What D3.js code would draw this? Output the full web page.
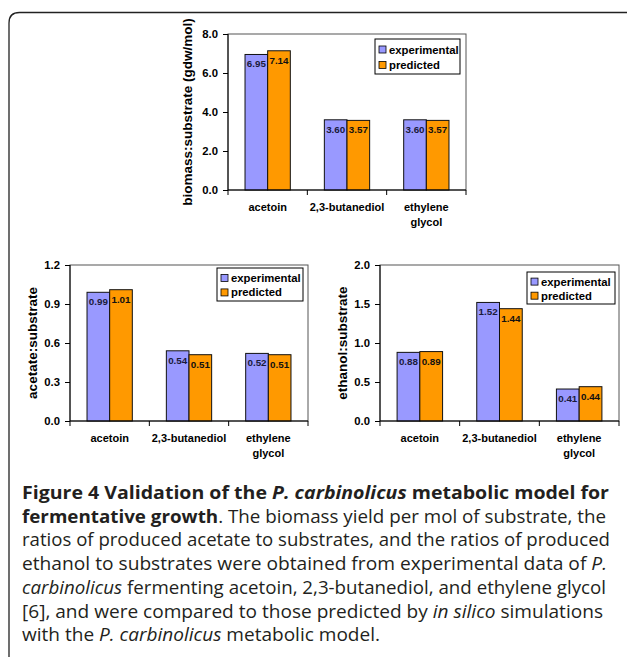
<!DOCTYPE html>
<html>
<head>
<meta charset="utf-8">
<script src="https://cdn.jsdelivr.net/npm/d3@7"></script>
<style>
  html, body { margin: 0; padding: 0; background: #fff; }
  svg { display: block; }
</style>
</head>
<body>
<svg id="chart" width="627" height="658"></svg>
<script>
// ---------------- DATA ----------------
const categories = ["acetoin", "2,3-butanediol", "ethylene glycol"];
const seriesNames = ["experimental", "predicted"];

const biomassExperimental = [6.95, 3.60, 3.60];
const biomassPredicted    = [7.14, 3.57, 3.57];
const biomassTicks        = [0, 2, 4, 6, 8];

const acetateExperimental = [0.99, 0.54, 0.52];
const acetatePredicted    = [1.01, 0.51, 0.51];
const acetateTicks        = [0, 0.3, 0.6, 0.9, 1.2];

const ethanolExperimental = [0.88, 1.52, 0.41];
const ethanolPredicted    = [0.89, 1.44, 0.44];
const ethanolTicks        = [0, 0.5, 1.0, 1.5, 2.0];

const yLabels = ["biomass:substrate (gdw/mol)", "acetate:substrate", "ethanol:substrate"];

// caption: each line is a list of [text, style] segments (b = bold, i = italic, bi = bold italic, r = regular)
const captionLines = [
  [["Figure 4 Validation of the ", "b"], ["P. carbinolicus", "bi"], [" metabolic model for", "b"]],
  [["fermentative growth", "b"], [". The biomass yield per mol of substrate, the", "r"]],
  [["ratios of produced acetate to substrates, and the ratios of produced", "r"]],
  [["ethanol to substrates were obtained from experimental data of ", "r"], ["P.", "i"]],
  [["carbinolicus", "i"], [" fermenting acetoin, 2,3-butanediol, and ethylene glycol", "r"]],
  [["[6], and were compared to those predicted by ", "r"], ["in silico", "i"], [" simulations", "r"]],
  [["with the ", "r"], ["P. carbinolicus", "i"], [" metabolic model.", "r"]]
];

// ---------------- STYLE ----------------
const seriesColors = ["#9999FF", "#FF9900"];
const chartFont = "'Liberation Sans', Arial, Helvetica, sans-serif";

const svg = d3.select("#chart");

// frame with rounded top-left corner
svg.append("path")
  .attr("d", "M9,657 V23 Q9,12.5 19.5,12.5 H627")
  .attr("fill", "none")
  .attr("stroke", "#222")
  .attr("stroke-width", 1.3);

const panels = [
  { box: [228, 34, 466, 190], exp: biomassExperimental, pred: biomassPredicted, ticks: biomassTicks,
    label: yLabels[0], labelX: 187, legend: [375, 39, 85, 35] },
  { box: [70, 265, 308, 421], exp: acetateExperimental, pred: acetatePredicted, ticks: acetateTicks,
    label: yLabels[1], labelX: 32, legend: [217, 268, 86, 33] },
  { box: [380, 265, 619, 421], exp: ethanolExperimental, pred: ethanolPredicted, ticks: ethanolTicks,
    label: yLabels[2], labelX: 342, legend: [527, 272, 88, 32] }
];

panels.forEach(p => drawPanel(p));

function drawPanel(p) {
  const [x0, y0, x1, y1] = p.box;
  const g = svg.append("g").attr("font-family", chartFont);

  const x = d3.scaleBand().domain(categories).range([x0, x1]).padding(0);
  const bw = x.bandwidth();
  const xs = d3.scaleBand().domain(seriesNames).range([bw * 0.2145, bw * 0.7855]).padding(0);
  const y = d3.scaleLinear().domain([p.ticks[0], p.ticks[p.ticks.length - 1]]).range([y1, y0]);

  // plot area border
  g.append("rect")
    .attr("x", x0).attr("y", y0).attr("width", x1 - x0).attr("height", y1 - y0)
    .attr("fill", "none").attr("stroke", "#555").attr("stroke-width", 1);

  // bars
  const rows = categories.map((c, i) => ({ cat: c, vals: [p.exp[i], p.pred[i]] }));
  const cg = g.selectAll("g.cat").data(rows).join("g")
    .attr("transform", d => `translate(${x(d.cat)},0)`);
  const bars = cg.selectAll("g.bar")
    .data(d => d.vals.map((v, j) => ({ v, s: seriesNames[j], j })))
    .join("g");
  bars.append("rect")
    .attr("x", d => xs(d.s))
    .attr("y", d => y(d.v))
    .attr("width", xs.bandwidth())
    .attr("height", d => y1 - y(d.v))
    .attr("fill", d => seriesColors[d.j])
    .attr("stroke", "#111")
    .attr("stroke-width", 1);
  bars.append("text")
    .attr("x", d => xs(d.s) + xs.bandwidth() / 2)
    .attr("y", d => y(d.v) + 13)
    .attr("text-anchor", "middle")
    .attr("font-size", 9.8)
    .attr("font-weight", "bold")
    .attr("fill", d => d.j === 0 ? "#1a1a3a" : "#111")
    .text(d => d3.format(".2f")(d.v));

  // y axis
  const yAxis = d3.axisLeft(y).tickValues(p.ticks).tickFormat(d3.format(".1f")).tickSize(5).tickPadding(5);
  const ya = g.append("g").attr("transform", `translate(${x0},0)`).call(yAxis);
  ya.select(".domain").attr("stroke", "#000").attr("d", `M0,${y0}V${y1}`);
  ya.selectAll(".tick line").attr("stroke", "#000");
  ya.selectAll(".tick text")
    .attr("font-family", chartFont).attr("font-size", 11.3).attr("font-weight", "bold").attr("fill", "#000");

  // x axis: tick marks at category boundaries
  const xAxis = d3.axisBottom(x).tickSize(0).tickFormat("");
  const xa = g.append("g").attr("transform", `translate(0,${y1})`).call(xAxis);
  xa.select(".domain").attr("stroke", "#000").attr("d", `M${x0},0H${x1}`);
  const bounds = categories.map(c => x(c)).concat([x1]);
  xa.selectAll("line.bound").data(bounds).join("line").attr("class", "bound")
    .attr("x1", d => d).attr("x2", d => d).attr("y1", 0).attr("y2", 5)
    .attr("stroke", "#000");

  // category labels (may wrap onto two lines)
  const lab = g.selectAll("text.cat").data(categories).join("text")
    .attr("class", "cat")
    .attr("x", d => x(d) + bw / 2)
    .attr("y", y1 + 21)
    .attr("text-anchor", "middle")
    .attr("font-size", 11)
    .attr("font-weight", "bold")
    .attr("fill", "#000");
  lab.each(function (d) {
    const parts = d.split(" ");
    const t = d3.select(this);
    parts.forEach((w, k) => {
      t.append("tspan").attr("x", x(d) + bw / 2).attr("dy", k === 0 ? 0 : 15).text(w);
    });
  });

  // y label
  g.append("text")
    .attr("transform", `translate(${p.labelX},${(y0 + y1) / 2}) rotate(-90)`)
    .attr("text-anchor", "middle")
    .attr("dominant-baseline", "central")
    .attr("font-size", 13.5)
    .attr("font-weight", "bold")
    .attr("fill", "#000")
    .text(p.label);

  // legend
  const [lx, ly, lw, lh] = p.legend;
  const lg = g.append("g");
  lg.append("rect").attr("x", lx).attr("y", ly).attr("width", lw).attr("height", lh)
    .attr("fill", "#fff").attr("stroke", "#000").attr("stroke-width", 1);
  seriesNames.forEach((s, j) => {
    const cy = ly + lh * (j === 0 ? 0.3 : 0.74);
    lg.append("rect").attr("x", lx + 4).attr("y", cy - 3.5).attr("width", 7).attr("height", 7)
      .attr("fill", seriesColors[j]).attr("stroke", "#000").attr("stroke-width", 0.8);
    lg.append("text").attr("x", lx + 14).attr("y", cy + 4)
      .attr("font-size", 11.3).attr("font-weight", "bold").attr("fill", "#000").text(s);
  });
}

// ---------------- CAPTION ----------------
const cap = svg.append("g").attr("font-family", "'Open Sans', 'Noto Sans', sans-serif").attr("fill", "#231f20");
const capX = 22, capY0 = 499, capStep = 23.7, capSize = 17.6;
// right end of each line in the reference (text is left aligned, ragged right)
const capEnds = [609, 606, 610, 607, 606, 603, 380];
captionLines.forEach((segs, i) => {
  const t = cap.append("text").attr("x", capX).attr("y", capY0 + i * capStep).attr("font-size", capSize);
  segs.forEach(([txt, st]) => {
    t.append("tspan")
      .attr("font-weight", st.includes("b") ? "bold" : "normal")
      .attr("font-style", st.includes("i") ? "italic" : "normal")
      .text(txt);
  });
  t.attr("textLength", capEnds[i] - capX).attr("lengthAdjust", "spacingAndGlyphs");
});
</script>
</body>
</html>
